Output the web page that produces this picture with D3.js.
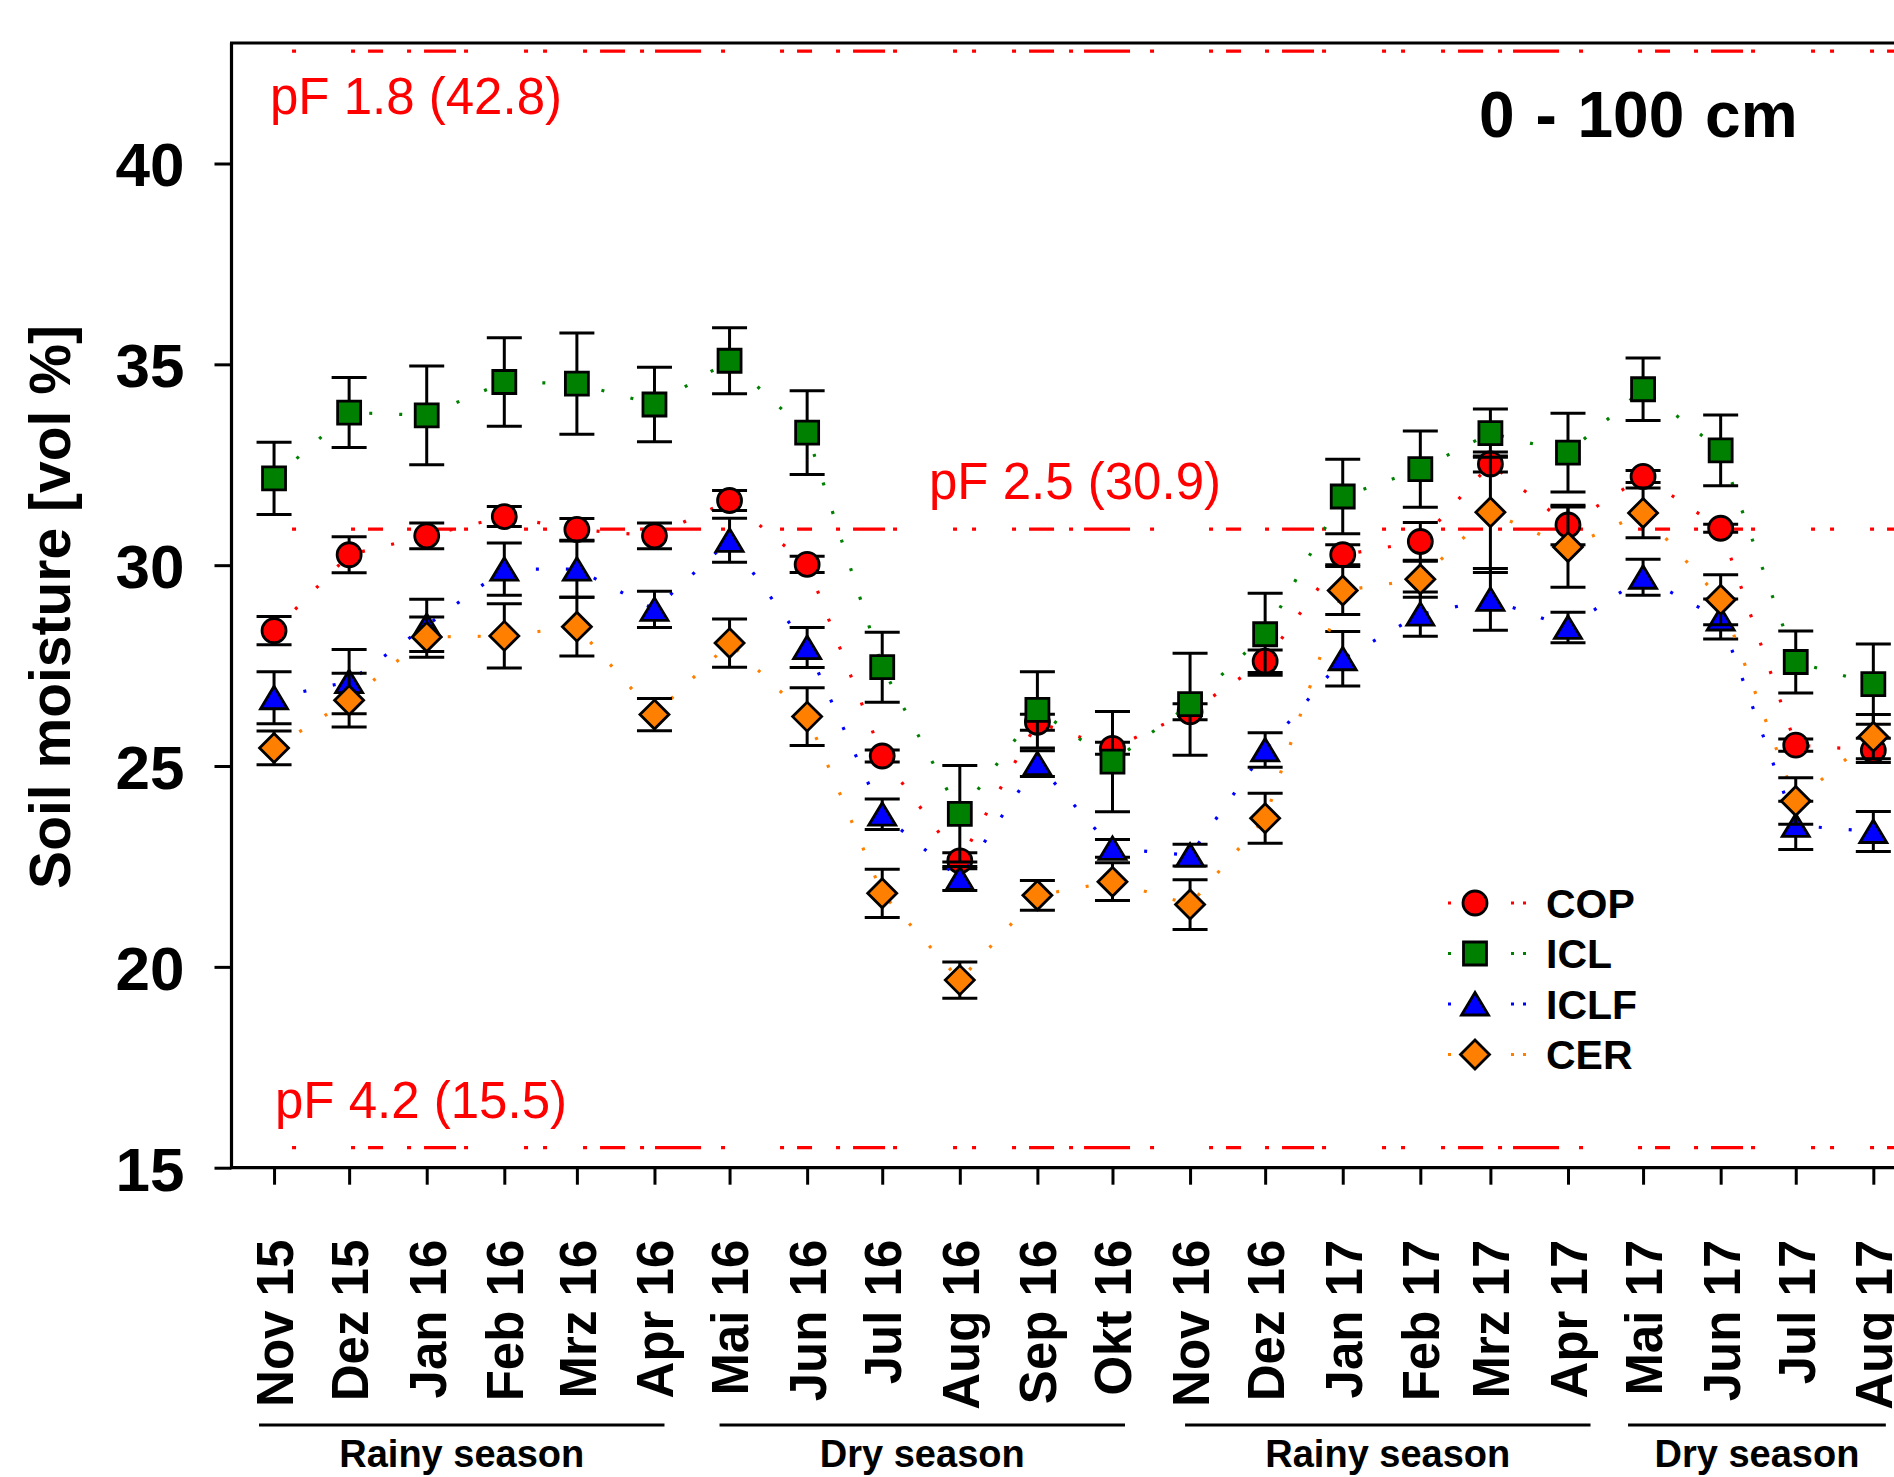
<!DOCTYPE html>
<html>
<head>
<meta charset="utf-8">
<script src="https://cdn.jsdelivr.net/npm/d3@7/dist/d3.min.js"></script>
<style>
  html, body { margin: 0; padding: 0; background: #ffffff; }
  svg { display: block; }
  text { font-family: "Liberation Sans", Arial, Helvetica, sans-serif; }
</style>
</head>
<body>
<svg id="chart" width="1894" height="1477"></svg>
<script>
// ---- data -------------------------------------------------------------
// sampling months (mid-month) and their axis labels
const monthDates = [
  "2015-11-15","2015-12-15","2016-01-15","2016-02-15","2016-03-15","2016-04-15",
  "2016-05-15","2016-06-15","2016-07-15","2016-08-15","2016-09-15","2016-10-15",
  "2016-11-15","2016-12-15","2017-01-15","2017-02-15","2017-03-15","2017-04-15",
  "2017-05-15","2017-06-15","2017-07-15","2017-08-15"
];
const monthLabels = [
  "Nov 15","Dez 15","Jan 16","Feb 16","Mrz 16","Apr 16","Mai 16","Jun 16",
  "Jul 16","Aug 16","Sep 16","Okt 16","Nov 16","Dez 16","Jan 17","Feb 17",
  "Mrz 17","Apr 17","Mai 17","Jun 17","Jul 17","Aug 17"
];

// mean soil moisture (vol %) 0-100 cm and standard errors per land use
const copValues  = [28.37,30.26,30.73,31.21,30.89,30.73,31.61,30.02,25.25,22.64,26.09,25.44,26.35,27.61,30.26,30.59,32.52,31.00,32.21,30.92,25.52,25.39];
const copErrors  = [0.35,0.45,0.32,0.25,0.27,0.32,0.25,0.20,0.15,0.20,0.20,0.15,0.20,0.28,0.25,0.47,0.20,0.49,0.15,0.10,0.15,0.30];
const iclValues  = [32.16,33.80,33.73,34.56,34.52,34.00,35.09,33.30,27.46,23.81,26.40,25.11,26.54,28.28,31.71,32.39,33.29,32.80,34.38,32.86,27.59,27.04];
const iclErrors  = [0.90,0.87,1.23,1.10,1.26,0.93,0.82,1.04,0.87,1.20,0.95,1.25,1.27,1.02,0.93,0.95,0.60,0.98,0.78,0.88,0.77,1.00];
const iclfValues = [26.70,27.10,28.50,29.90,29.90,28.90,30.62,27.95,23.80,22.20,25.06,22.95,22.78,25.40,27.67,28.78,29.15,28.45,29.70,28.66,23.52,23.37];
const iclfErrors = [0.65,0.80,0.65,0.65,0.70,0.45,0.55,0.50,0.38,0.30,0.32,0.22,0.27,0.43,0.68,0.55,0.77,0.38,0.45,0.50,0.60,0.50];
const cerValues  = [25.45,26.64,28.21,28.24,28.47,26.28,28.06,26.23,21.83,19.67,21.78,22.12,21.55,23.70,29.37,29.65,31.32,30.45,31.30,29.14,24.13,25.73];
const cerErrors  = [0.42,0.67,0.50,0.80,0.73,0.40,0.60,0.72,0.60,0.45,0.37,0.47,0.62,0.62,0.60,0.45,1.50,1.00,0.62,0.62,0.58,0.55];

const seriesNames = ["COP","ICL","ICLF","CER"];

// water retention thresholds (pF) in vol %
const pfValues = [42.8, 30.9, 15.5];
const pfLabels = ["pF 1.8 (42.8)", "pF 2.5 (30.9)", "pF 4.2 (15.5)"];

// seasons shown under the month axis
const seasonNames  = ["Rainy season","Dry season","Rainy season","Dry season"];
const seasonStarts = ["2015-11-09","2016-05-11","2016-11-13","2017-05-09"];
const seasonEnds   = ["2016-04-19","2016-10-20","2017-04-24","2017-08-20"];

const yTickValues = [15, 20, 25, 30, 35, 40];

// ---- layout -----------------------------------------------------------
const svg = d3.select("#chart");
const W = 1894, H = 1477;
svg.append("rect").attr("width", W).attr("height", H).attr("fill", "#fff");

const plotLeft = 231.5, plotTop = 43, plotBottom = 1167.7;
const parse = d3.utcParse("%Y-%m-%d");

const x = d3.scaleUtc()
  .domain([parse("2015-10-29"), parse("2017-09-10")])
  .range([plotLeft, 1938.4]);
const y = d3.scaleLinear().domain([15, 43]).range([plotBottom, plotTop]);

const series = [
  { name: seriesNames[0], values: copValues,  errors: copErrors,  color: "#ff0000", shape: "circle" },
  { name: seriesNames[1], values: iclValues,  errors: iclErrors,  color: "#008000", shape: "square" },
  { name: seriesNames[2], values: iclfValues, errors: iclfErrors, color: "#0000ff", shape: "triangle" },
  { name: seriesNames[3], values: cerValues,  errors: cerErrors,  color: "#ff8000", shape: "diamond" }
];

const dates = monthDates.map(parse);

// symbol outlines centred on (0,0)
const shapePath = {
  square:   "M-11.5,-11.5H11.5V11.5H-11.5Z",
  triangle: "M0,-11.5L13.5,11L-13.5,11Z",
  diamond:  "M0,-14.5L14.5,0L0,14.5L-14.5,0Z"
};
function drawSymbol(g, shape, color) {
  if (shape === "circle") {
    g.append("circle").attr("r", 12).attr("fill", color)
      .attr("stroke", "#000").attr("stroke-width", 2.8);
  } else {
    g.append("path").attr("d", shapePath[shape]).attr("fill", color)
      .attr("stroke", "#000").attr("stroke-width", 2.8);
  }
}

// ---- threshold lines --------------------------------------------------
const pfG = svg.append("g");
pfG.selectAll("line").data(pfValues).join("line")
  .attr("x1", x(dates[0]) + 18).attr("x2", W)
  .attr("y1", d => y(d)).attr("y2", d => y(d))
  .attr("stroke", "#ff0000").attr("stroke-width", 3.2)
  .attr("stroke-dasharray", "4 55 4 13 15 24 4 13 32 8 4 56 4 15 4 36 4 13 25 15 4 11 46 20");

const pfLabelPos = [
  { x: 270, dy: 63 },
  { x: 929, dy: -30 },
  { x: 275, dy: -30 }
];
pfG.selectAll("text").data(pfValues).join("text")
  .attr("x", (d, i) => pfLabelPos[i].x)
  .attr("y", (d, i) => y(d) + pfLabelPos[i].dy)
  .attr("fill", "#ff0000").attr("font-size", 51)
  .text((d, i) => pfLabels[i]);

// ---- series -----------------------------------------------------------
const line = d3.line().x(d => x(d.date)).y(d => y(d.v));
series.forEach(s => {
  const pts = dates.map((d, i) => ({ date: d, v: s.values[i], e: s.errors[i] }));
  const g = svg.append("g");
  g.append("path").datum(pts).attr("d", line)
    .attr("fill", "none").attr("stroke", s.color)
    .attr("stroke-width", 3.2).attr("stroke-dasharray", "3 27");

  const eb = g.append("g").attr("stroke", "#000").attr("stroke-width", 3);
  pts.forEach(p => {
    const cx = x(p.date), y1 = y(p.v + p.e), y2 = y(p.v - p.e);
    eb.append("line").attr("x1", cx).attr("x2", cx).attr("y1", y1).attr("y2", y2);
    eb.append("line").attr("x1", cx - 17.5).attr("x2", cx + 17.5).attr("y1", y1).attr("y2", y1);
    eb.append("line").attr("x1", cx - 17.5).attr("x2", cx + 17.5).attr("y1", y2).attr("y2", y2);
  });

  pts.forEach(p => {
    const m = g.append("g").attr("transform", `translate(${x(p.date)},${y(p.v)})`);
    drawSymbol(m, s.shape, s.color);
  });
});

// ---- axes -------------------------------------------------------------
const yAxis = d3.axisLeft(y).tickValues(yTickValues).tickSize(17).tickPadding(30);
const yG = svg.append("g").attr("transform", `translate(${plotLeft},0)`).call(yAxis);
yG.select(".domain").remove();
yG.selectAll(".tick line").attr("stroke", "#000").attr("stroke-width", 3);
yG.selectAll(".tick text").attr("font-size", 62).attr("font-weight", "bold")
  .attr("fill", "#000").attr("dy", "0.36em")
  .style("font-family", "'Liberation Sans', Arial, sans-serif");

const xAxis = d3.axisBottom(x).tickValues(dates).tickSize(17).tickFormat((d, i) => monthLabels[i]);
const xG = svg.append("g").attr("transform", `translate(0,${plotBottom})`).call(xAxis);
xG.select(".domain").remove();
xG.selectAll(".tick line").attr("stroke", "#000").attr("stroke-width", 3);
xG.selectAll(".tick text")
  .attr("font-size", 51).attr("font-weight", "bold").attr("fill", "#000")
  .attr("text-anchor", "end").attr("transform", "rotate(-90)")
  .attr("x", -72).attr("y", 0).attr("dy", "0.36em")
  .style("font-family", "'Liberation Sans', Arial, sans-serif");

// frame: left, bottom and top edges
const frame = svg.append("g").attr("stroke", "#000").attr("stroke-width", 3.2).attr("fill", "none");
frame.append("line").attr("x1", plotLeft).attr("x2", plotLeft).attr("y1", plotTop).attr("y2", plotBottom);
frame.append("line").attr("x1", plotLeft - 1.5).attr("x2", W).attr("y1", plotBottom).attr("y2", plotBottom);
frame.append("line").attr("x1", plotLeft - 1.5).attr("x2", W).attr("y1", plotTop).attr("y2", plotTop);

// axis title
svg.append("text")
  .attr("transform", "translate(70,607) rotate(-90)")
  .attr("text-anchor", "middle").attr("font-size", 57).attr("font-weight", "bold")
  .text("Soil moisture [vol %]");

// depth label
svg.append("text").attr("x", 1479).attr("y", 137)
  .attr("font-size", 64).attr("font-weight", "bold")
  .attr("word-spacing", 3)
  .text("0 - 100 cm");

// ---- seasons ----------------------------------------------------------
const sG = svg.append("g");
seasonNames.forEach((name, i) => {
  const a = x(parse(seasonStarts[i])), b = x(parse(seasonEnds[i]));
  sG.append("line").attr("x1", a).attr("x2", b).attr("y1", 1425).attr("y2", 1425)
    .attr("stroke", "#000").attr("stroke-width", 3);
  sG.append("text").attr("x", (a + b) / 2).attr("y", 1466.7)
    .attr("text-anchor", "middle").attr("font-size", 38).attr("font-weight", "bold")
    .text(name);
});

// ---- legend -----------------------------------------------------------
const lg = svg.append("g").attr("transform", "translate(1475,903)");
series.forEach((s, i) => {
  const row = lg.append("g").attr("transform", `translate(0,${i * 50.5})`);
  row.append("line").attr("x1", -27).attr("x2", 52).attr("y1", 0).attr("y2", 0)
    .attr("stroke", s.color).attr("stroke-width", 3.2)
    .attr("stroke-dasharray", "3 60 3 9 3 100");
  drawSymbol(row, s.shape, s.color);
  row.append("text").attr("x", 71).attr("y", 0).attr("dy", "0.36em")
    .attr("font-size", 41).attr("font-weight", "bold").text(s.name);
});
</script>
</body>
</html>
